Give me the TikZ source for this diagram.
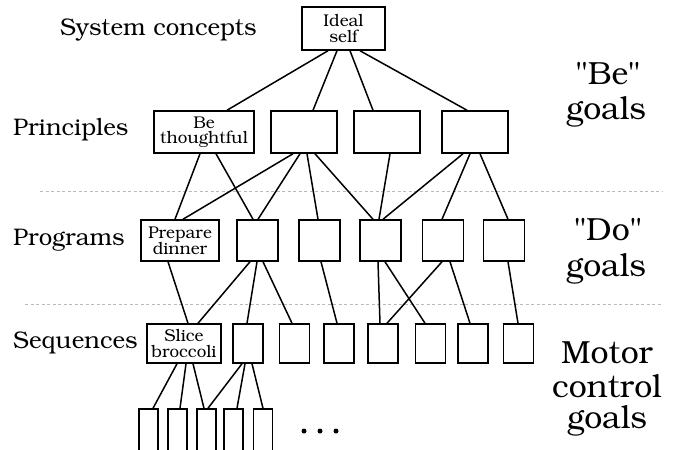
\documentclass[tikz,border=0pt]{standalone}
\usepackage[T1]{fontenc}
\usepackage{bookman}
\begin{document}
\begin{tikzpicture}[x=1pt,y=-1pt,
  box/.style={draw, line width=1.5pt, inner sep=0pt, align=center, font=\fontsize{17}{15.5}\selectfont},
  link/.style={line width=1.5pt},
  lvl/.style={anchor=base west, inner sep=0pt, font=\fontsize{24}{28}\selectfont},
  goal/.style={anchor=base, inner sep=0pt, font=\fontsize{32}{32}\selectfont},
  sep/.style={gray!55, line width=0.7pt, dash pattern=on 3pt off 2.5pt}]
\newcommand\conn[4]{\draw[link] ([xshift=#2pt]#1.south) -- ([xshift=#4pt]#3.north);}
\useasboundingbox (0,0) rectangle (675,450);
\clip (0,0) rectangle (675,450);
% separators
\coordinate (s1a) at (40,191); \coordinate (s1b) at (663,191);
\coordinate (s2a) at (25,304); \coordinate (s2b) at (663,304);
\draw[sep] (s1a) -- (s1b);
\draw[sep] (s2a) -- (s2b);
% level labels
\node[lvl] (lsys) at (60,35) {System concepts};
\node[lvl] (lpri) at (13,135) {Principles};
\node[lvl] (lpro) at (13,245) {Programs};
\node[lvl] (lseq) at (13,348) {Sequences};
% goal labels
\node[goal] (g1a) at (608,84) {"Be"};
\node[goal] (g1b) at (606,119) {goals};
\node[goal] (g2a) at (608,240) {"Do"};
\node[goal] (g2b) at (606,276) {goals};
\node[goal] (g3a) at (607,363) {Motor};
\node[goal] (g3b) at (607,397) {control};
\node[goal] (g3c) at (607,428) {goals};
% top
\node[box, minimum width=83pt, minimum height=43pt] (ideal) at (343.5,28.5) {Ideal\\self};
% principles
\node[box, minimum width=100pt, minimum height=42pt] (be) at (204,132) {Be\\thoughtful};
\node[box, minimum width=66pt, minimum height=42pt] (p2) at (304,132) {};
\node[box, minimum width=66pt, minimum height=42pt] (p3) at (387,132) {};
\node[box, minimum width=66pt, minimum height=42pt] (p4) at (475,132) {};
% programs
\node[box, minimum width=78pt, minimum height=41pt] (prep) at (180,240.5) {Prepare\\dinner};
\node[box, minimum width=41pt, minimum height=41pt] (q2) at (257.5,240.5) {};
\node[box, minimum width=41pt, minimum height=41pt] (q3) at (319.5,240.5) {};
\node[box, minimum width=41pt, minimum height=41pt] (q4) at (380.5,240.5) {};
\node[box, minimum width=41pt, minimum height=41pt] (q5) at (443,240.5) {};
\node[box, minimum width=41pt, minimum height=41pt] (q6) at (504,240.5) {};
% sequences
\node[box, minimum width=74pt, minimum height=39pt] (slice) at (184,343.5) {Slice\\broccoli};
\node[box, minimum width=30pt, minimum height=39pt] (r2) at (248,343.5) {};
\node[box, minimum width=30pt, minimum height=39pt] (r3) at (294.5,343.5) {};
\node[box, minimum width=30pt, minimum height=39pt] (r4) at (339,343.5) {};
\node[box, minimum width=30pt, minimum height=39pt] (r5) at (383,343.5) {};
\node[box, minimum width=30pt, minimum height=39pt] (r6) at (430.5,343.5) {};
\node[box, minimum width=30pt, minimum height=39pt] (r7) at (473,343.5) {};
\node[box, minimum width=30pt, minimum height=39pt] (r8) at (518.5,343.5) {};
% bottom
\node[box, minimum width=19pt, minimum height=50pt] (b1) at (148.5,434) {};
\node[box, minimum width=19pt, minimum height=50pt] (b2) at (177.5,434) {};
\node[box, minimum width=19pt, minimum height=50pt] (b3) at (206.5,434) {};
\node[box, minimum width=19pt, minimum height=50pt] (b4) at (233.5,434) {};
\node[box, minimum width=19pt, minimum height=50pt] (b5) at (263,434) {};
% dots
\fill (304,431) circle (2.5pt) (320,431) circle (2.5pt) (336,431) circle (2.5pt);
% ideal -> principles
\conn{ideal}{-15.5}{be}{23}
\conn{ideal}{-6.5}{p2}{9}
\conn{ideal}{6.5}{p3}{-14}
\conn{ideal}{16.5}{p4}{-8}
% principles -> programs
\conn{be}{-4}{prep}{-5}
\conn{be}{12}{q2}{-4.5}
\conn{p2}{-11}{prep}{3}
\conn{p2}{-4}{q2}{0.5}
\conn{p2}{3}{q3}{-1.5}
\conn{p2}{11}{q4}{-7.5}
\conn{p3}{3}{q4}{-1.5}
\conn{p4}{-12}{q4}{2.5}
\conn{p4}{-5}{q5}{-1}
\conn{p4}{5}{q6}{4}
% programs -> sequences
\conn{prep}{-12}{slice}{4}
\conn{q2}{-7.5}{slice}{14}
\conn{q2}{-0.5}{r2}{-1}
\conn{q2}{5.5}{r3}{-2.5}
\conn{q3}{1.5}{r4}{-2}
\conn{q4}{-2.5}{r5}{-3}
\conn{q4}{4.5}{r6}{-5.5}
\conn{q5}{-1}{r5}{4}
\conn{q5}{7}{r7}{-3}
\conn{q6}{4}{r8}{-0.5}
% sequences -> bottom
\conn{slice}{-7}{b1}{4.5}
\conn{slice}{2}{b2}{2.5}
\conn{slice}{9}{b3}{-2.5}
\conn{r2}{-6}{b3}{1.5}
\conn{r2}{-3}{b4}{3.5}
\conn{r2}{4}{b5}{0}
\end{tikzpicture}
\end{document}
